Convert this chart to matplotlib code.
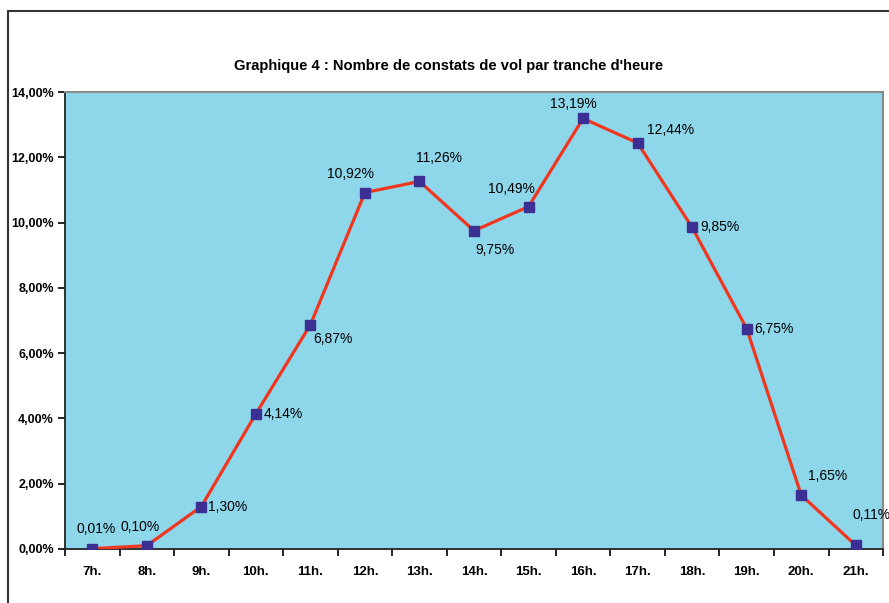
import matplotlib.pyplot as plt
from matplotlib.patches import Rectangle
import numpy as np

plt.rcParams['font.family'] = ['Liberation Sans', 'DejaVu Sans']

heures = ['7h.', '8h.', '9h.', '10h.', '11h.', '12h.', '13h.', '14h.',
          '15h.', '16h.', '17h.', '18h.', '19h.', '20h.', '21h.']
parts = [0.01, 0.10, 1.30, 4.14, 6.87, 10.92, 11.26, 9.75,
         10.49, 13.19, 12.44, 9.85, 6.75, 1.65, 0.11]
# decalage des etiquettes (pixels), a la main comme dans le graphique
decal = [(4, 20), (-7, 19), (7, 0), (8, 0), (3, -14), (-14, 19), (20, 23), (21, -19),
         (-17, 18), (-10, 14), (9, 13), (8, 0), (8, 0), (26, 19), (16, 30)]
a_gauche = [2, 3, 4, 10, 11, 12]

fig = plt.figure(figsize=(8.89, 6.03), dpi=100)
ax = fig.add_axes([0.0731, 0.0896, 0.9202, 0.7578])
ax.set_facecolor('#8ed7eb')

x = np.arange(len(heures))
ax.plot(x, parts, color='#f0361f', lw=2.3, marker='s', ms=6.5,
        mfc='#3b2f94', mec='#3b2f94', zorder=3)

for i, v in enumerate(parts):
    dx, dy = decal[i]
    lab = ('%.2f%%' % v).replace('.', ',')
    ha = 'left' if i in a_gauche else 'center'
    ax.annotate(lab, (i, v), xytext=(dx * 0.72, dy * 0.72), textcoords='offset points',
                ha=ha, va='center', fontsize=10, color='black', annotation_clip=False)

ax.set_xlim(-0.5, len(heures) - 0.5)
ax.set_ylim(0, 14)
ax.set_yticks(np.arange(0, 15, 2))
ax.set_yticklabels([('%.2f%%' % t).replace('.', ',') for t in np.arange(0, 15, 2)],
                   fontsize=9, fontweight='bold')
ax.set_xticks(x)
ax.set_xticklabels(heures, fontsize=9.5, fontweight='bold')
ax.set_xticks(np.arange(-0.5, len(heures), 1), minor=True)
ax.tick_params(axis='x', which='major', length=0, pad=12)
ax.tick_params(axis='x', which='minor', length=5, width=1.2, direction='out')
ax.tick_params(axis='y', length=5, width=1.2, direction='out', pad=3)

for s in ['left', 'bottom']:
    ax.spines[s].set_color('#222222')
    ax.spines[s].set_linewidth(1.3)
for s in ['top', 'right']:
    ax.spines[s].set_color('#8a8a8a')
    ax.spines[s].set_linewidth(1.5)

fig.text(0.505, 0.89, "Graphique 4 : Nombre de constats de vol par tranche d'heure",
         ha='center', va='center', fontsize=10.6, fontweight='bold')

fig.patches.append(Rectangle((8 / 889, -0.1), 1.2, (603 - 11) / 603 + 0.1,
                             transform=fig.transFigure, fill=False,
                             edgecolor='#333333', lw=1.5))

fig.savefig('out.png', dpi=100)
